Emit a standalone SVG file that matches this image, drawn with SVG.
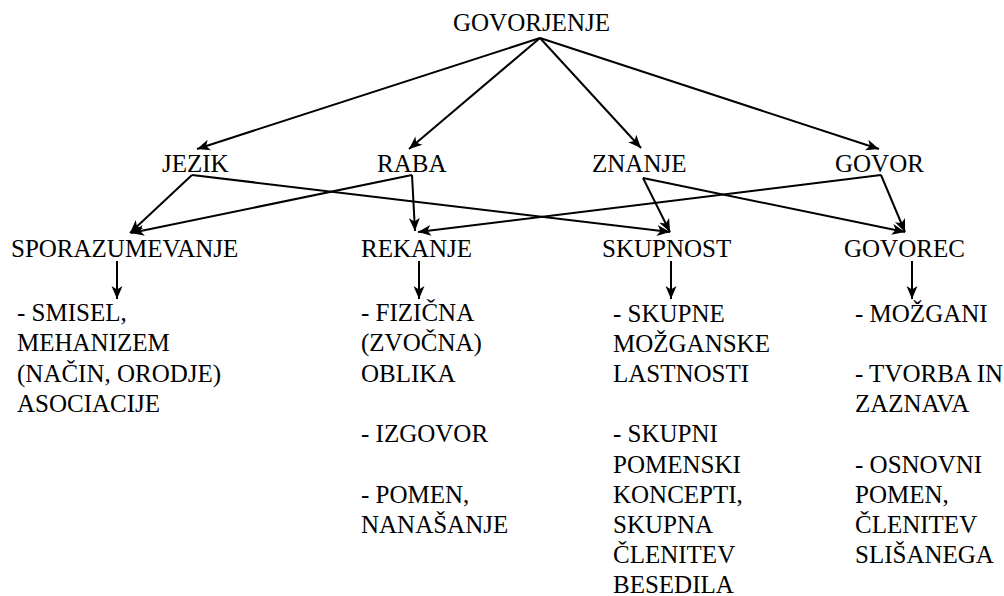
<svg xmlns="http://www.w3.org/2000/svg" width="1004" height="596" viewBox="0 0 1004 596">
<style>
.e{stroke:#000;stroke-width:2;fill:none;marker-end:url(#ah)}
.t{font-family:"Liberation Serif","DejaVu Serif",serif;font-size:25px;fill:#000}
</style>
<defs>
<marker id="ah" markerUnits="userSpaceOnUse" markerWidth="16" markerHeight="12" viewBox="-14 -6 15 12" refX="0" refY="0" orient="auto">
<path d="M-13,-5.5 L0,0 L-13,5.5 L-9.5,0 z" fill="#000"/>
</marker>
</defs>
<rect width="1004" height="596" fill="#fff"/>
<g id="connectors">
<line class="e" x1="540" y1="38" x2="197" y2="149"/>
<line class="e" x1="540" y1="38" x2="409" y2="149"/>
<line class="e" x1="540" y1="38" x2="641" y2="148"/>
<line class="e" x1="540" y1="38" x2="879" y2="149"/>
<line class="e" x1="192" y1="175" x2="130" y2="233"/>
<line class="e" x1="192" y1="175" x2="670" y2="232"/>
<line class="e" x1="412" y1="175" x2="131" y2="233"/>
<line class="e" x1="412" y1="175" x2="415" y2="231"/>
<line class="e" x1="643" y1="178" x2="670" y2="232"/>
<line class="e" x1="643" y1="178" x2="905" y2="232"/>
<line class="e" x1="881" y1="175" x2="418" y2="232"/>
<line class="e" x1="881" y1="175" x2="905" y2="232"/>
<line class="e" x1="117" y1="261" x2="117" y2="299"/>
<line class="e" x1="419" y1="261" x2="419" y2="299"/>
<line class="e" x1="671" y1="261" x2="671" y2="299"/>
<line class="e" x1="912" y1="261" x2="912" y2="299"/>
</g>
<g class="t">
<g id="govorjenje"><text class="t" x="453" y="30.5">GOVORJENJE</text></g>
<g id="jezik"><text class="t" x="162" y="171.5">JEZIK</text></g>
<g id="raba"><text class="t" x="377" y="171.5">RABA</text></g>
<g id="znanje"><text class="t" x="592" y="171.5">ZNANJE</text></g>
<g id="govor"><text class="t" x="835" y="171.5">GOVOR</text></g>
<g id="sporazumevanje"><text class="t" x="11" y="257">SPORAZUMEVANJE</text></g>
<g id="rekanje"><text class="t" x="361" y="257">REKANJE</text></g>
<g id="skupnost"><text class="t" x="602" y="257">SKUPNOST</text></g>
<g id="govorec"><text class="t" x="844" y="257">GOVOREC</text></g>
<g id="sporazumevanje-desc"><text class="t" x="17" y="321">- SMISEL,<tspan x="17" dy="30.3">MEHANIZEM</tspan><tspan x="17" dy="30.3">(NAČIN, ORODJE)</tspan><tspan x="17" dy="30.3">ASOCIACIJE</tspan></text></g>
<g id="rekanje-desc"><text class="t" x="361" y="321">- FIZIČNA<tspan x="361" dy="30.3">(ZVOČNA)</tspan><tspan x="361" dy="30.3">OBLIKA</tspan><tspan x="361" dy="60.6">- IZGOVOR</tspan><tspan x="361" dy="60.6">- POMEN,</tspan><tspan x="361" dy="30.3">NANAŠANJE</tspan></text></g>
<g id="skupnost-desc"><text class="t" x="613" y="321.5">- SKUPNE<tspan x="613" dy="30.2">MOŽGANSKE</tspan><tspan x="613" dy="30.2">LASTNOSTI</tspan><tspan x="613" dy="60.4">- SKUPNI</tspan><tspan x="613" dy="30.2">POMENSKI</tspan><tspan x="613" dy="30.2">KONCEPTI,</tspan><tspan x="613" dy="30.2">SKUPNA</tspan><tspan x="613" dy="30.2">ČLENITEV</tspan><tspan x="613" dy="30">BESEDILA</tspan></text></g>
<g id="govorec-desc"><text class="t" x="855" y="321.5">- MOŽGANI<tspan x="855" dy="60.4">- TVORBA IN</tspan><tspan x="855" dy="30.2">ZAZNAVA</tspan><tspan x="855" dy="60.4">- OSNOVNI</tspan><tspan x="855" dy="30.2">POMEN,</tspan><tspan x="855" dy="30.2">ČLENITEV</tspan><tspan x="855" dy="30.2">SLIŠANEGA</tspan></text></g>
</g>
</svg>
